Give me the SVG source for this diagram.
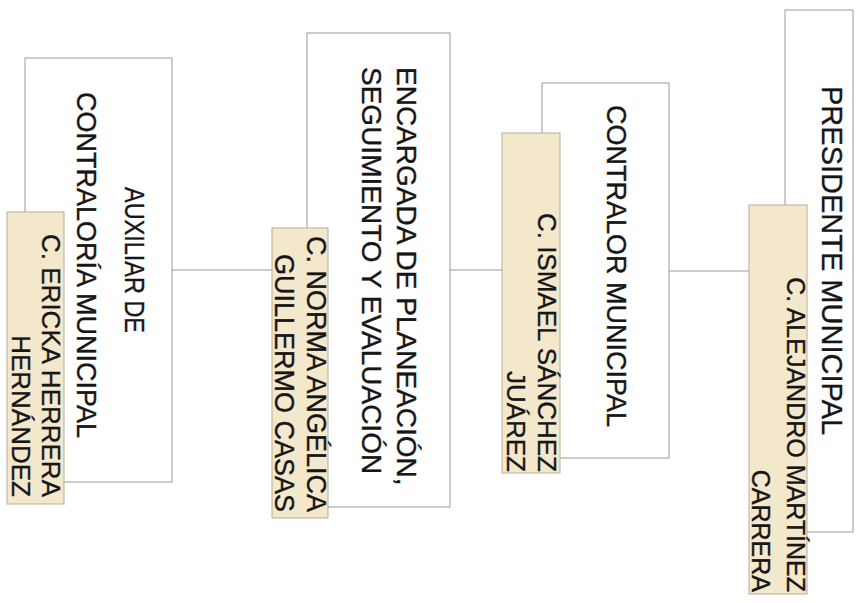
<svg xmlns="http://www.w3.org/2000/svg" width="857" height="603" viewBox="0 0 857 603">
<style>
.box{fill:#ffffff;stroke:#9a9a9a;stroke-width:1}
.nm{fill:#f3e8cc;stroke:#b8ae98;stroke-width:1}
.ln{fill:none;stroke:#9a9a9a;stroke-width:1}
text{font-family:"Liberation Sans",Arial,sans-serif;font-size:27px;fill:#161616;stroke:#161616;stroke-width:0.35}
.n{font-size:26px;text-anchor:end}
</style>
<rect width="857" height="603" fill="#ffffff"/>
<g id="connectors">
<line class="ln" x1="171" y1="270" x2="272" y2="270"/>
<line class="ln" x1="450" y1="270" x2="502" y2="270"/>
<line class="ln" x1="669" y1="271" x2="749" y2="271"/>
</g>
<g id="node-auxiliar">
<rect class="box" x="25" y="58" width="147" height="424"/>
<rect class="nm" x="7" y="212" width="57" height="292"/>
<text transform="translate(125,187) rotate(90)" textLength="146" lengthAdjust="spacingAndGlyphs">AUXILIAR DE</text>
<text transform="translate(77,92) rotate(90)">CONTRALORÍA MUNICIPAL</text>
<text class="n" transform="translate(42,497) rotate(90)">C. ERICKA HERRERA</text>
<text class="n" transform="translate(12,497) rotate(90)">HERNÁNDEZ</text>
</g>
<g id="node-encargada">
<rect class="box" x="307" y="33" width="143" height="474"/>
<rect class="nm" x="272" y="228" width="56" height="290"/>
<text style="font-size:28px" transform="translate(397,67) rotate(90)">ENCARGADA DE PLANEACIÓN,</text>
<text style="font-size:28px" transform="translate(362,67) rotate(90)">SEGUIMIENTO Y EVALUACIÓN</text>
<text class="n" style="font-size:27px" transform="translate(307,512) rotate(90)">C. NORMA ANGÉLICA</text>
<text class="n" style="font-size:27px" transform="translate(275,512) rotate(90)">GUILLERMO CASAS</text>
</g>
<g id="node-contralor">
<rect class="box" x="542" y="83" width="127" height="375"/>
<rect class="nm" x="502" y="133" width="58" height="340"/>
<text transform="translate(607,105) rotate(90)">CONTRALOR MUNICIPAL</text>
<text class="n" transform="translate(538,472) rotate(90)">C. ISMAEL SÁNCHEZ</text>
<text class="n" transform="translate(507,472) rotate(90)">JUÁREZ</text>
</g>
<g id="node-presidente">
<rect class="box" x="785" y="10" width="68" height="522"/>
<rect class="nm" x="749" y="205" width="58" height="389"/>
<text style="font-size:29px" transform="translate(822,86) rotate(90)">PRESIDENTE MUNICIPAL</text>
<text class="n" style="font-size:25px" transform="translate(787,592) rotate(90)">C. ALEJANDRO MARTÍNEZ</text>
<text class="n" style="font-size:25px" transform="translate(752,592) rotate(90)">CARRERA</text>
</g>
</svg>
